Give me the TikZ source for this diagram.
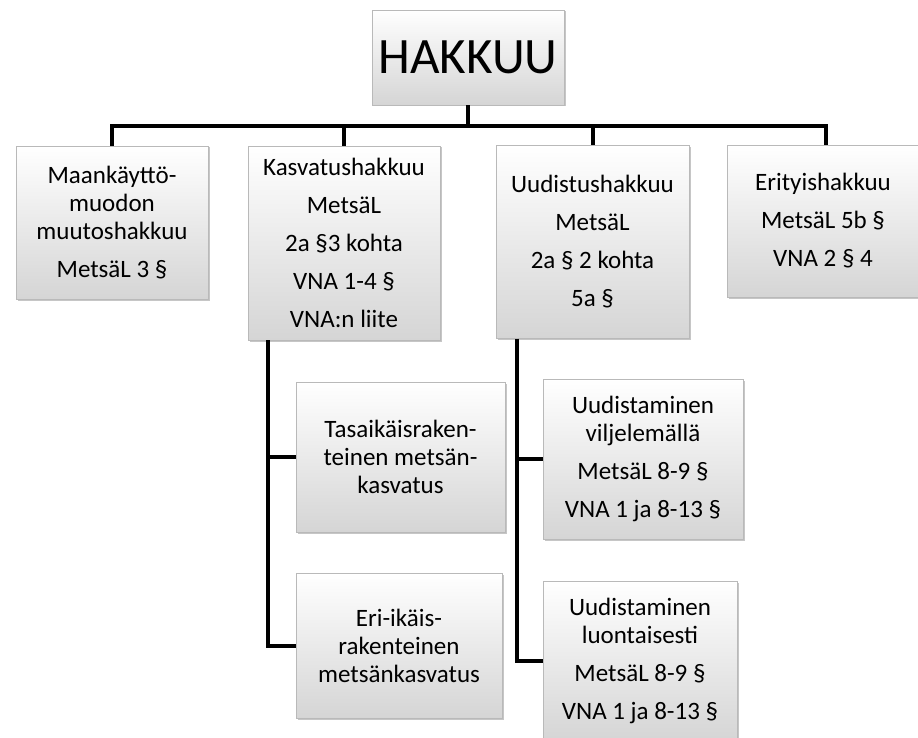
\documentclass[tikz,border=0pt]{standalone}
\usepackage{fontspec}
\setmainfont{Carlito}
\usetikzlibrary{shadows}
\begin{document}
\begin{tikzpicture}[x=1pt,y=-1pt,line width=4pt,box/.style={draw=gray!55,line width=.8pt,top color=white,bottom color=gray!33,drop shadow={shadow xshift=1.5pt,shadow yshift=-1.5pt,opacity=.45},align=flush center,text width=180pt,inner sep=0pt,font=\fontsize{25}{28}\selectfont}]
\useasboundingbox (0,0) rectangle (918,738);
\begin{scope}
\node[box,minimum width=192pt,minimum height=95pt,font=\fontsize{51}{56}\selectfont] (hakkuu) at (468,57.5) {HAKKUU};
\node[box,minimum width=192pt,minimum height=153pt] (maa) at (112,222.5) {Maankäyttö-\\muodon\\muutoshakkuu\\[10pt]MetsäL 3 §};
\node[box,minimum width=192pt,minimum height=194pt] (kasv) at (344,243) {Kasvatushakkuu\\[10pt]MetsäL\\[10pt]2a §3 kohta\\[10pt]VNA 1-4 §\\[10pt]VNA:n liite};
\node[box,minimum width=193pt,minimum height=193pt] (uud) at (592.5,242) {Uudistushakkuu\\[10pt]MetsäL\\[10pt]2a § 2 kohta\\[10pt]5a §};
\node[box,minimum width=192pt,minimum height=152pt] (eri) at (823,221) {Erityishakkuu\\[10pt]MetsäL 5b §\\[10pt]VNA 2 § 4};
\node[box,minimum width=209pt,minimum height=150pt] (tasa) at (400.5,457) {Tasaikäisraken-\\teinen metsän-\\kasvatus};
\node[box,minimum width=206pt,minimum height=145pt] (erii) at (399,645.5) {Eri-ikäis-\\rakenteinen\\metsänkasvatus};
\node[box,minimum width=200pt,minimum height=160pt] (vilj) at (643,459) {Uudistaminen\\viljelemällä\\[10pt]MetsäL 8-9 §\\[10pt]VNA 1 ja 8-13 §};
\node[box,minimum width=194pt,minimum height=160pt] (luon) at (640,661) {Uudistaminen\\luontaisesti\\[10pt]MetsäL 8-9 §\\[10pt]VNA 1 ja 8-13 §};
\end{scope}
\begin{scope}
\coordinate (bus) at (468,126);
\draw (hakkuu.south) -- (bus);
\draw (bus) -| (maa.north);
\draw (bus) -| (kasv.north);
\draw (bus) -| (uud.north);
\draw (bus) -| ([xshift=3pt]eri.north);
\draw ([xshift=20pt]kasv.south west) |- (tasa.west);
\draw ([xshift=20pt]kasv.south west) |- (erii.west);
\draw ([xshift=21pt]uud.south west) |- (vilj.west);
\draw ([xshift=21pt]uud.south west) |- (luon.west);
\end{scope}
\end{tikzpicture}
\end{document}
